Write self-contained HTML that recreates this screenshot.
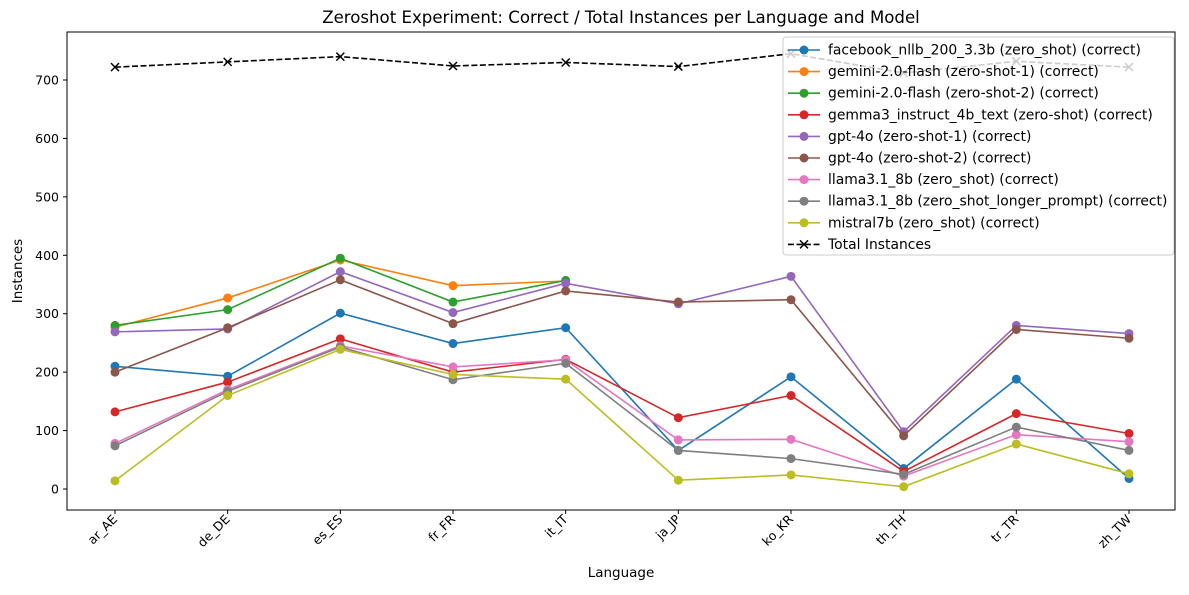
<!DOCTYPE html>
<html><head><meta charset="utf-8"><style>
body{margin:0;background:#fff;font-family:"Liberation Sans","DejaVu Sans",sans-serif;}
</style></head><body>
<svg id="chart" width="1189" height="590" xmlns="http://www.w3.org/2000/svg" font-family="DejaVu Sans, Liberation Sans, sans-serif"></svg>
<script>
const categories=["ar_AE","de_DE","es_ES","fr_FR","it_IT","ja_JP","ko_KR","th_TH","tr_TR","zh_TW"];
const seriesNames=["facebook_nllb_200_3.3b (zero_shot) (correct)","gemini-2.0-flash (zero-shot-1) (correct)","gemini-2.0-flash (zero-shot-2) (correct)","gemma3_instruct_4b_text (zero-shot) (correct)","gpt-4o (zero-shot-1) (correct)","gpt-4o (zero-shot-2) (correct)","llama3.1_8b (zero_shot) (correct)","llama3.1_8b (zero_shot_longer_prompt) (correct)","mistral7b (zero_shot) (correct)"];
const nllb=[210,193,301,249,276,66,192,35,188,18];
const geminiA=[277,327,392,348,356];
const geminiB=[280,307,395,320,357];
const gemma=[132,183,257,200,222,122,160,30,129,95];
const gpt4oA=[269,274,372,302,352,317,364,98,280,266];
const gpt4oB=[200,276,358,283,339,320,324,91,273,258];
const llama=[78,170,245,209,221,84,85,22,93,81];
const llamaLong=[74,167,243,187,215,66,52,25,106,66];
const mistral=[14,160,239,196,188,15,24,4,77,26];
const totals=[722,731,740,724,730,723,745,712,732,722];
const yTicks=[0,100,200,300,400,500,600,700];
const colors=["#1f77b4","#ff7f0e","#2ca02c","#d62728","#9467bd","#8c564b","#e377c2","#7f7f7f","#bcbd22"];
const allSeries=[nllb,geminiA,geminiB,gemma,gpt4oA,gpt4oB,llama,llamaLong,mistral];

const svg=document.getElementById('chart');
const NS="http://www.w3.org/2000/svg";
const L=67,R=1175,T=32,B=510;
const x=i=>115+i*(1129-115)/(categories.length-1);
const y=v=>489-v*(489-80)/700;
function el(tag,attrs,parent){const e=document.createElementNS(NS,tag);for(const k in attrs)e.setAttribute(k,attrs[k]);(parent||svg).appendChild(e);return e;}

const title=el('text',{x:(L+R)/2,y:23,'text-anchor':'middle','font-size':16.6});
title.textContent="Zeroshot Experiment: Correct / Total Instances per Language and Model";



yTicks.forEach(v=>{
 const t=el('line',{x1:L-4,x2:L,y1:y(v),y2:y(v),stroke:'#000'});
 
 
 const tx=el('text',{x:L-8,y:y(v)+4.5,'text-anchor':'end','font-size':12.5});
 tx.textContent=v;
 
 
});
categories.forEach((c,i)=>{
 const t=el('line',{x1:x(i),x2:x(i),y1:B,y2:B+4,stroke:'#000'});
 
 
 const tx=el('text',{x:x(i)+3,y:B+10,'text-anchor':'end','font-size':12.5,transform:`rotate(-45 ${x(i)+3} ${B+10})`});
 tx.textContent=c;
 
 
});
const yl=el('text',{x:22,y:(T+B)/2,'text-anchor':'middle','font-size':13.5,transform:`rotate(-90 22 ${(T+B)/2})`});
yl.textContent="Instances";


const xl=el('text',{x:(L+R)/2,y:577,'text-anchor':'middle','font-size':13.5});
xl.textContent="Language";



allSeries.forEach((s,k)=>{
 const g=el('g',{});
 
 
 el('polyline',{points:s.map((v,i)=>x(i)+','+y(v)).join(' '),fill:'none',stroke:colors[k],'stroke-width':1.6},g);
 s.forEach((v,i)=>{
  const c=el('circle',{cx:x(i),cy:y(v),r:4.5,fill:colors[k]},g);
  
  
 });
});
const tg=el('g',{});


el('polyline',{points:totals.map((v,i)=>x(i)+','+y(v)).join(' '),fill:'none',stroke:'#000','stroke-width':1.6,'stroke-dasharray':'6,2.5'},tg);
totals.forEach((v,i)=>{
 const m=el('path',{d:`M${x(i)-4},${y(v)-4}L${x(i)+4},${y(v)+4}M${x(i)-4},${y(v)+4}L${x(i)+4},${y(v)-4}`,stroke:'#000','stroke-width':1.5},tg);
 
 
});

el('rect',{x:L,y:T,width:R-L,height:B-T,fill:'none',stroke:'#000','stroke-width':1});

const lg=el('g',{});


el('rect',{x:783,y:37,width:391,height:218,fill:'#fff','fill-opacity':0.8,stroke:'#ccc',rx:3},lg);
const names=seriesNames.concat(["Total Instances"]);
names.forEach((n,k)=>{
 const yy=50+k*21.6;
 const e=el('g',{},lg);
 
 
 if(k<9){
  el('line',{x1:788,x2:820,y1:yy,y2:yy,stroke:colors[k],'stroke-width':1.6},e);
  el('circle',{cx:804,cy:yy,r:4.5,fill:colors[k]},e);
 }else{
  el('line',{x1:788,x2:820,y1:yy,y2:yy,stroke:'#000','stroke-width':1.6,'stroke-dasharray':'6,2.5'},e);
  el('path',{d:`M800,${yy-4}L808,${yy+4}M800,${yy+4}L808,${yy-4}`,stroke:'#000','stroke-width':1.5},e);
 }
 const t=el('text',{x:828,y:yy+4.5,'font-size':13.9},e);
 t.textContent=n;
});
</script>
</body></html>
